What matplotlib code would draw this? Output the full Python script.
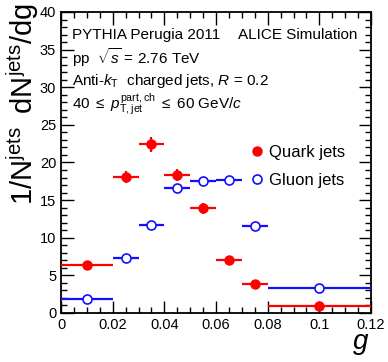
import numpy as np
import matplotlib
matplotlib.use("Agg")
import matplotlib.pyplot as plt
from matplotlib.ticker import MultipleLocator
from matplotlib.lines import Line2D

plt.rcParams['font.family'] = ['Liberation Sans', 'DejaVu Sans']
plt.rcParams['mathtext.fontset'] = 'custom'
plt.rcParams['mathtext.rm'] = 'Liberation Sans'
plt.rcParams['mathtext.it'] = 'Liberation Sans:italic'
plt.rcParams['mathtext.bf'] = 'Liberation Sans:bold'

# bin edges in g and per-bin values
bin_lo = [0.0, 0.02, 0.03, 0.04, 0.05, 0.06, 0.07, 0.08]
bin_hi = [0.02, 0.03, 0.04, 0.05, 0.06, 0.07, 0.08, 0.12]
quark_y = [6.35, 18.1, 22.4, 18.4, 13.9, 7.1, 3.85, 0.9]
quark_err = [0.3, 0.8, 1.0, 0.8, 0.7, 0.4, 0.3, 0.15]
gluon_y = [1.9, 7.3, 11.7, 16.6, 17.6, 17.65, 11.6, 3.3]
gluon_err = [0.15, 0.3, 0.4, 0.5, 0.5, 0.55, 0.4, 0.15]

red = '#ff0000'
blue = '#1010ff'

lo = np.array(bin_lo)
hi = np.array(bin_hi)
xc = 0.5 * (lo + hi)
xerr = 0.5 * (hi - lo)

fig = plt.figure(figsize=(3.88, 3.62), dpi=100)
ax = fig.add_axes([61 / 388, 1 - 313 / 362, 310 / 388, 301 / 362])

ax.errorbar(xc, quark_y, xerr=xerr, yerr=quark_err, fmt='o', color=red,
            ms=6.5, elinewidth=1.6, capsize=0, zorder=3)
ax.errorbar(xc, gluon_y, xerr=xerr, yerr=gluon_err, fmt='o', color=blue,
            mfc='white', mec=blue, mew=1.2, ms=6.5, elinewidth=1.6,
            capsize=0, zorder=3)

ax.set_xlim(0, 0.12)
ax.set_ylim(0, 40)
ax.xaxis.set_major_locator(MultipleLocator(0.02))
ax.xaxis.set_minor_locator(MultipleLocator(0.005))
ax.yaxis.set_major_locator(MultipleLocator(5))
ax.yaxis.set_minor_locator(MultipleLocator(1))
ax.tick_params(which='both', direction='in', top=True, right=True, labelsize=10.5)
ax.tick_params(which='major', length=9, width=1)
ax.tick_params(which='minor', length=4.5, width=1)
ax.set_xticks([0, 0.02, 0.04, 0.06, 0.08, 0.1, 0.12])
ax.set_xticklabels(['0', '0.02', '0.04', '0.06', '0.08', '0.1', '0.12'])
for sp in ax.spines.values():
    sp.set_linewidth(1.3)

# y title, top-aligned in the left margin
fig.text(23 / 388, 1 - 3 / 362,
         r'$\mathrm{1/N^{jets}\;\;dN^{jets}/dg}$',
         rotation=90, ha='center', va='top', fontsize=21)
ax.set_xlabel(r'$g$', fontsize=20)
ax.xaxis.set_label_coords(0.995, -0.06)
ax.xaxis.label.set_ha('right')
ax.xaxis.label.set_va('top')

fs = 11
ax.text(0.035, 0.925, 'PYTHIA Perugia 2011', transform=ax.transAxes, fontsize=fs, va='center')
ax.text(0.955, 0.925, 'ALICE Simulation', transform=ax.transAxes, fontsize=fs, va='center', ha='right')
ax.text(0.035, 0.85, r'pp  $\sqrt{s}$ = 2.76 TeV', transform=ax.transAxes, fontsize=fs, va='center')
ax.text(0.035, 0.772, r'Anti-$k_{\mathrm{T}}$  charged jets, $R$ = 0.2', transform=ax.transAxes,
        fontsize=fs, va='center')
ax.text(0.035, 0.695, r'40 $\leq$ $p_{\mathrm{T,jet}}^{\mathrm{part,ch}}$ $\leq$ 60 GeV/$c$',
        transform=ax.transAxes, fontsize=fs, va='center')

handles = [Line2D([], [], ls='none', marker='o', color=red, ms=6.5),
           Line2D([], [], ls='none', marker='o', mfc='white', mec=blue, mew=1.2, ms=6.5)]
ax.legend(handles, ['Quark jets', 'Gluon jets'], loc='upper left',
          bbox_to_anchor=(0.578, 0.58), frameon=False, fontsize=12,
          handletextpad=0.1, handlelength=1.2, labelspacing=0.75, borderaxespad=0)

fig.savefig('out.png', dpi=100)
